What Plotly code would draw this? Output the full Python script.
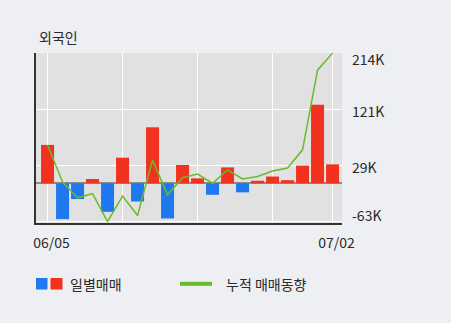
import plotly.graph_objects as go

# ---- data ----
dates = ["06/05", "06/08", "06/09", "06/10", "06/11", "06/12", "06/15", "06/16", "06/17", "06/18",
         "06/19", "06/22", "06/23", "06/24", "06/25", "06/26", "06/29", "06/30", "07/01", "07/02"]
daily = [63, -59, -26, 7, -47, 42, -30, 92, -58, 30,
         8, -19, 26, -15, 4, 11, 5, 29, 129, 31]          # thousand shares
cumulative = [63, 2, -24, -17, -63, -21, -53, 38, -19, 9,
              15, 0, 22, 7, 11, 20, 25, 55, 186, 214]     # thousand shares
y_tick_vals = [214, 121, 29, -63]
y_tick_text = ["214K", "121K", "29K", "-63K"]
x_tick_idx = [0, 5, 10, 15, 19]
x_tick_text = ["06/05", "", "", "", "07/02"]

RED = "#f0321e"
BLUE = "#1f78ef"
GREEN = "#6abb2c"
FONT = "Noto Sans CJK KR"
TXT = "#2a2a2a"

W, H = 451, 323
L, R, T, B = 36, 342, 53, 223   # plot area in pixels


def px(x):
    return (x - L) / (R - L)


def py(y):
    return (B - y) / (B - T)


fig = go.Figure()
fig.add_trace(go.Bar(
    x=dates, y=[v * 1000 for v in daily],
    marker=dict(color=[RED if v >= 0 else BLUE for v in daily], line=dict(width=0)),
    showlegend=False,
))
fig.add_trace(go.Scatter(
    x=dates, y=[v * 1000 for v in cumulative], mode="lines",
    line=dict(color=GREEN, width=1.5), showlegend=False,
))

annotations = [dict(text="외국인", xref="paper", yref="paper", x=px(37), y=py(37),
                    xanchor="left", yanchor="middle", showarrow=False,
                    font=dict(family=FONT, size=14, color=TXT))]
# downward pixel offset of each right-hand label relative to its gridline
label_down = {"214K": 6, "121K": 1, "29K": 1, "-63K": -7}
for v, t in zip(y_tick_vals, y_tick_text):
    annotations.append(dict(text=t, xref="paper", yref="y", x=1, y=v * 1000,
                            xanchor="left", yanchor="middle", xshift=8, yshift=-label_down[t],
                            showarrow=False, font=dict(family=FONT, size=14, color=TXT)))
# legend texts
annotations.append(dict(text="일별매매", xref="paper", yref="paper", x=px(68), y=py(284),
                        xanchor="left", yanchor="middle", showarrow=False,
                        font=dict(family=FONT, size=14, color=TXT)))
annotations.append(dict(text="누적 매매동향", xref="paper", yref="paper", x=px(224), y=py(284),
                        xanchor="left", yanchor="middle", showarrow=False,
                        font=dict(family=FONT, size=14, color=TXT)))

shapes = [
    dict(type="rect", xref="paper", yref="paper", x0=px(36), x1=px(47.5), y0=py(278), y1=py(289.5),
         fillcolor=BLUE, line=dict(width=0)),
    dict(type="rect", xref="paper", yref="paper", x0=px(50.5), x1=px(62.5), y0=py(278), y1=py(289.5),
         fillcolor=RED, line=dict(width=0)),
    dict(type="line", xref="paper", yref="paper", x0=px(180), x1=px(212), y0=py(283.8), y1=py(283.8),
         line=dict(color=GREEN, width=4)),
]

fig.update_layout(
    width=W, height=H,
    margin=dict(l=L, r=W - R, t=T, b=H - B),
    paper_bgcolor="#edeff3", plot_bgcolor="#e1e1e1",
    bargap=2 / 15,
    annotations=annotations, shapes=shapes,
    font=dict(family=FONT, size=14, color=TXT),
)
fig.update_xaxes(
    type="category", range=[-0.77, 19.63],
    tickmode="array", tickvals=[dates[i] for i in x_tick_idx], ticktext=x_tick_text,
    showgrid=True, gridcolor="#ffffff", gridwidth=1,
    showline=True, linecolor="#333333", linewidth=2,
    ticks="", ticklabelshift=4, ticklabelstandoff=6,
    tickfont=dict(family=FONT, size=14, color=TXT),
)
fig.update_yaxes(
    range=[-65400, 214200],
    tickmode="array", tickvals=[v * 1000 for v in y_tick_vals], showticklabels=False,
    showgrid=True, gridcolor="#ffffff", gridwidth=1,
    showline=True, linecolor="#333333", linewidth=2,
    zeroline=True, zerolinecolor="#8c8c8c", zerolinewidth=2,
    ticks="",
)

fig.write_html("out.html")
